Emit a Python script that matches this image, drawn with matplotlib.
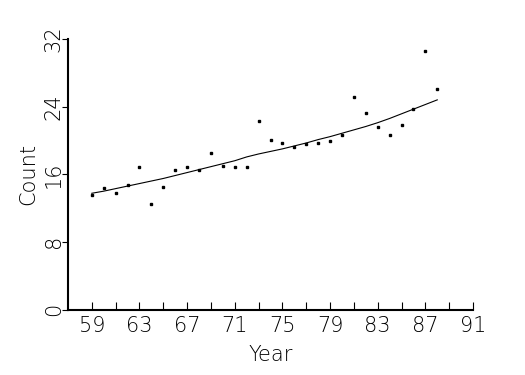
import matplotlib
matplotlib.use("Agg")
import matplotlib.pyplot as plt

# observed counts per year
years = [59, 60, 61, 62, 63, 64, 65, 66, 67, 68, 69, 70, 71, 72, 73,
         74, 75, 76, 77, 78, 79, 80, 81, 82, 83, 84, 85, 86, 87, 88]
counts = [13.6, 14.4, 13.75, 14.7, 16.85, 12.5, 14.5, 16.45, 16.8, 16.5,
          18.5, 17.0, 16.8, 16.8, 22.35, 20.0, 19.65, 19.2, 19.55, 19.65,
          19.9, 20.6, 25.1, 23.2, 21.55, 20.6, 21.8, 23.7, 30.55, 26.05]

# fitted trend
fit = [13.75, 14.0, 14.3, 14.6, 14.9, 15.2, 15.5, 15.85, 16.2, 16.55,
       16.9, 17.25, 17.6, 18.05, 18.4, 18.7, 19.0, 19.35, 19.7, 20.1,
       20.45, 20.85, 21.25, 21.65, 22.1, 22.6, 23.15, 23.7, 24.25, 24.8]

xticks_minor = list(range(59, 92, 2))
xtick_labels = [59, 63, 67, 71, 75, 79, 83, 87, 91]
yticks = [0, 8, 16, 24, 32]

plt.rcParams["font.family"] = ["DejaVu Sans"]
fw = "ultralight"

fig = plt.figure(figsize=(5.25, 3.75), dpi=100)
ax = fig.add_axes([68 / 525, 1 - 309.5 / 375, (473 - 68) / 525, (309.5 - 39) / 375])

ax.plot(years, fit, color="black", lw=0.8)
ax.plot(years, counts, "s", color="black", ms=1.8, mec="black")

ax.set_xlim(57, 91)
ax.set_ylim(0, 32)

ax.spines["top"].set_visible(False)
ax.spines["right"].set_visible(False)
ax.spines["left"].set_linewidth(1.5)
ax.spines["bottom"].set_linewidth(1.5)

ax.set_xticks(xticks_minor, minor=True)
ax.set_xticks(xtick_labels)
ax.set_xticklabels([str(v) for v in xtick_labels], fontsize=15, fontweight=fw)
ax.tick_params(axis="x", which="both", direction="in", length=6, width=0.8, pad=5)

ax.set_yticks(yticks)
ax.set_yticklabels([str(v) for v in yticks], fontsize=15, fontweight=fw,
                   rotation=90, va="center")
ax.tick_params(axis="y", direction="out", length=4, width=0.8, pad=-1)

ax.set_xlabel("Year", fontsize=15, fontweight=fw, labelpad=6)
ax.set_ylabel("Count", fontsize=15, fontweight=fw, labelpad=4)

fig.savefig("out.png", dpi=100)
